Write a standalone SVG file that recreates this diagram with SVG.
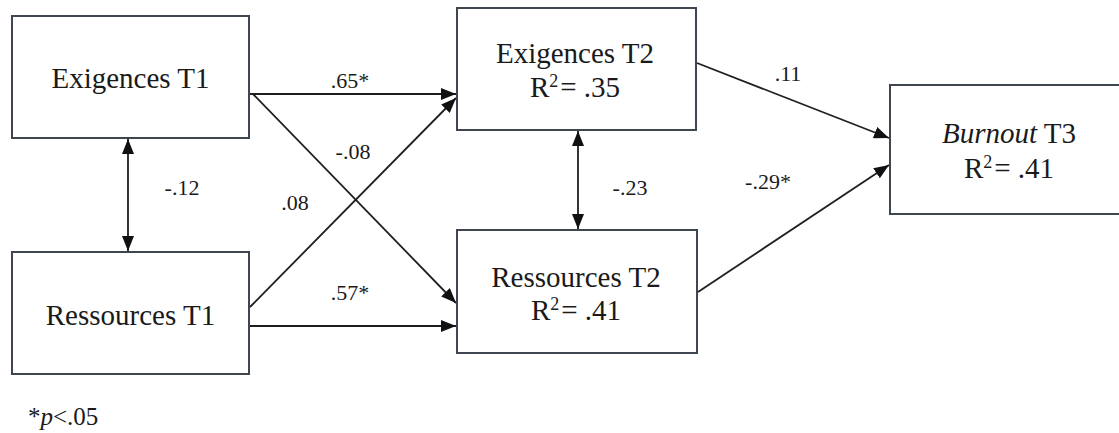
<svg xmlns="http://www.w3.org/2000/svg" width="1119" height="433" viewBox="0 0 1119 433">
<style>
.box{fill:#ffffff;stroke:#3f4650;stroke-width:2}
.node{font-family:"Liberation Serif","DejaVu Serif",serif;font-size:29px;fill:#1a1a1a;text-anchor:middle}
.sup{font-size:18px}
.lbl{font-family:"Liberation Serif","DejaVu Serif",serif;font-size:22px;fill:#1a1a1a;text-anchor:middle}
.foot{font-family:"Liberation Serif","DejaVu Serif",serif;font-size:25px;fill:#1a1a1a}
.con{stroke:#1f1f1f;stroke-width:1.8;fill:none}
</style>
<defs>
<marker id="ah" viewBox="0 0 15 12" refX="15" refY="6" markerWidth="15" markerHeight="12" markerUnits="userSpaceOnUse" orient="auto-start-reverse">
<path d="M0,0 L15,6 L0,12 z" fill="#111"/>
</marker>
</defs>
<rect width="1119" height="433" fill="#ffffff"/>

<g id="exigences-t1">
<rect class="box" x="12" y="16" width="237" height="122"/>
<text class="node" x="130.5" y="88">Exigences T1</text>
</g>
<g id="ressources-t1">
<rect class="box" x="12" y="252" width="237" height="122"/>
<text class="node" x="130.5" y="325">Ressources T1</text>
</g>
<g id="exigences-t2">
<rect class="box" x="457" y="8" width="239" height="122"/>
<text class="node" x="575" y="63">Exigences T2</text>
<text class="node" x="575" y="97">R<tspan class="sup" dy="-10">2</tspan><tspan dy="10" dx="2">= .35</tspan></text>
</g>
<g id="ressources-t2">
<rect class="box" x="457" y="230" width="240" height="123"/>
<text class="node" x="576" y="287">Ressources T2</text>
<text class="node" x="576" y="320">R<tspan class="sup" dy="-10">2</tspan><tspan dy="10" dx="2">= .41</tspan></text>
</g>
<g id="burnout-t3">
<rect class="box" x="890" y="85" width="240" height="129"/>
<text class="node" x="1009" y="143"><tspan font-style="italic">Burnout</tspan> T3</text>
<text class="node" x="1009" y="178">R<tspan class="sup" dy="-10">2</tspan><tspan dy="10" dx="2">= .41</tspan></text>
</g>

<g id="connectors">
<line class="con" x1="250" y1="94" x2="456" y2="94" marker-end="url(#ah)"/>
<line class="con" x1="253" y1="94" x2="456" y2="303" marker-end="url(#ah)"/>
<line class="con" x1="250" y1="307" x2="456" y2="98" marker-end="url(#ah)"/>
<line class="con" x1="250" y1="326" x2="456" y2="326" marker-end="url(#ah)"/>
<line class="con" x1="128" y1="139" x2="128" y2="251" marker-start="url(#ah)" marker-end="url(#ah)"/>
<line class="con" x1="578" y1="131" x2="578" y2="229" marker-start="url(#ah)" marker-end="url(#ah)"/>
<line class="con" x1="697" y1="63" x2="889" y2="138" marker-end="url(#ah)"/>
<line class="con" x1="698" y1="292" x2="889" y2="165" marker-end="url(#ah)"/>
</g>

<g id="labels">
<text class="lbl" x="350" y="88">.65*</text>
<text class="lbl" x="353" y="159">-.08</text>
<text class="lbl" x="295" y="210">.08</text>
<text class="lbl" x="350" y="300">.57*</text>
<text class="lbl" x="182" y="195">-.12</text>
<text class="lbl" x="630" y="195">-.23</text>
<text class="lbl" x="788" y="81">.11</text>
<text class="lbl" x="768" y="189">-.29*</text>
</g>

<text class="foot" x="28" y="425">*<tspan font-style="italic">p</tspan>&lt;.05</text>
</svg>
